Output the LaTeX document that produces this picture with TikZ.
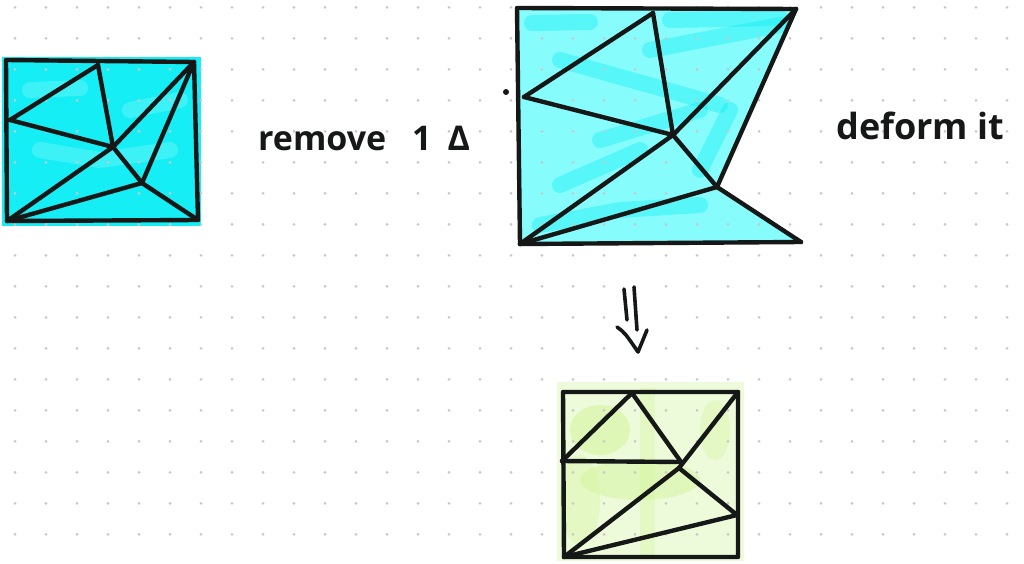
\documentclass[tikz,border=0pt]{standalone}
\usepackage{fontspec}
\setmainfont{Open Sans}
\usetikzlibrary{calc}
\definecolor{ink}{RGB}{22,24,24}
\definecolor{cyanlight}{RGB}{135,252,252}
\definecolor{cyandeep}{RGB}{0,236,242}
\definecolor{limelight}{RGB}{238,251,218}
\definecolor{limedeep}{RGB}{212,245,158}
\definecolor{dotgray}{RGB}{200,200,200}
\begin{document}
\begin{tikzpicture}[x=1pt,y=-1pt,
  edge/.style={line width=4.4pt,line cap=round,line join=round,draw=ink},
  streak/.style={line width=16pt,line cap=round,line join=round,opacity=0.35},
  hand/.style={text=ink,inner sep=0pt,anchor=base west}]
\useasboundingbox (0,0) rectangle (1024,564);
\fill[white] (0,0) rectangle (1024,564);

% ---------- vertices ----------
% left square
\coordinate (LTL) at (6,60);   \coordinate (LTR) at (194,62);
\coordinate (LBL) at (7,221);  \coordinate (LBR) at (198,220);
\coordinate (LA) at (98,65);   \coordinate (LB) at (10,120);
\coordinate (LC) at (113,147); \coordinate (LD) at (142,183);
% middle figure
\coordinate (MTL) at (517,8);  \coordinate (MTR) at (796,9);
\coordinate (MBL) at (520,244);\coordinate (MBR) at (801,242);
\coordinate (MA) at (653,13);  \coordinate (MB) at (524,97);
\coordinate (MC) at (673,135); \coordinate (MD) at (717,187);
\coordinate (MP) at (506,92);
% bottom square
\coordinate (BTL) at (563,392);\coordinate (BTR) at (738,392);
\coordinate (BBL) at (564,557);\coordinate (BBR) at (738,557);
\coordinate (BA) at (632,393); \coordinate (BB) at (562,461);
\coordinate (BC) at (681,462); \coordinate (BD) at (679,468);
\coordinate (BE) at (737,515);

% ---------- fills ----------
\fill[cyandeep!85!cyanlight] ($(LTL)+(-4,-3)$) rectangle ($(LBR)+(3,6)$);
\begin{scope}
\clip (LTL) rectangle (LBR);
\draw[streak,cyanlight] (30,90) -- (80,88);
\draw[streak,cyanlight] (40,150) -- (100,160) -- (170,150);
\draw[streak,cyanlight] (130,110) -- (180,100);
\end{scope}

\fill[cyanlight] (MTL) -- (MTR) -- (MD) -- (MBR) -- (MBL) -- cycle;
\begin{scope}
\clip (MTL) -- (MTR) -- (MD) -- (MBR) -- (MBL) -- cycle;
\draw[streak,cyandeep] (532,23) -- (590,22);
\draw[streak,cyandeep] (670,20) -- (780,18);
\draw[streak,cyandeep] (560,60) -- (720,105);
\draw[streak,cyandeep] (650,50) -- (780,25);
\draw[streak,cyandeep] (600,140) -- (700,110);
\draw[streak,cyandeep] (560,185) -- (640,150);
\draw[streak,cyandeep] (540,225) -- (620,210) -- (700,205);
\draw[streak,cyandeep] (700,170) -- (730,110);
\end{scope}

\fill[limelight] ($(BTL)+(-6,-10)$) rectangle ($(BBR)+(6,4)$);
\begin{scope}
\clip ($(BTL)+(-6,-10)$) rectangle ($(BBR)+(6,4)$);
\fill[limedeep,opacity=0.6] (600,430) ellipse (30 and 25);
\fill[limedeep,opacity=0.5] (640,480) ellipse (60 and 20);
\fill[limedeep,opacity=0.4] (580,500) ellipse (20 and 45);
\fill[limedeep,opacity=0.4] (715,430) ellipse (15 and 30);
\fill[limedeep,opacity=0.4] (640,388) rectangle (655,555);
\end{scope}

% ---------- dot grid ----------
\foreach \i in {0,...,32}{
  \foreach \j in {0,...,17}{
    \fill[dotgray] ({15+31*\i},{7.3+31*\j}) circle (1.5);
  }
}

% ---------- left square ----------
\draw[edge] (LTL) -- (LTR) -- (LBR) -- (LBL) -- cycle;
\draw[edge] (LB) -- (LA);
\draw[edge] (LA) -- (LC);
\draw[edge] (LB) -- (LC);
\draw[edge] (LC) -- (LTR);
\draw[edge] (LC) -- (LBL);
\draw[edge] (LC) -- (LD);
\draw[edge] (LD) -- (LTR);
\draw[edge] (LD) -- (LBL);
\draw[edge] (LD) -- (LBR);

% ---------- middle figure ----------
\draw[edge] (MBL) -- (MTL) -- (MTR);
\draw[edge] (MBL) -- (MBR);
\draw[edge] (MTR) -- (MD);
\draw[edge] (MD) -- (MBR);
\draw[edge] (MB) -- (MA);
\draw[edge] (MA) -- (MC);
\draw[edge] (MB) -- (MC);
\draw[edge] (MC) -- (MTR);
\draw[edge] (MC) -- (MBL);
\draw[edge] (MC) -- (MD);
\draw[edge] (MD) -- (MBL);
\fill[ink] (MP) circle (3);

% ---------- bottom square ----------
\draw[edge] (BTL) -- (BTR) -- (BBR) -- (BBL) -- cycle;
\draw[edge] (BA) -- (BB);
\draw[edge] (BB) -- (BC);
\draw[edge] (BA) -- (BC);
\draw[edge] (BD) -- (BTR);
\draw[edge] (BD) -- (BBL);
\draw[edge] (BD) -- (BE);
\draw[edge] (BE) -- (BBL);

% ---------- arrow ----------
\coordinate (A1s) at (624,289); \coordinate (A1e) at (627,320);
\coordinate (A2s) at (634,287); \coordinate (A2e) at (637,330);
\coordinate (AHl) at (617,327); \coordinate (AHt) at (638,352);
\coordinate (AHr) at (647,330);
\draw[edge,line width=3.6pt] (A1s) -- (A1e);
\draw[edge,line width=3.6pt] (A2s) -- (A2e);
\draw[edge,line width=3.6pt] (AHl) .. controls (625,333) .. (AHt) -- (AHr);

% ---------- texts ----------
\node[hand,font=\bfseries\fontsize{34}{34}\selectfont] (t1) at (258,150) {remove\hspace{26pt}1\hspace{16pt}Δ};
\node[hand,font=\bfseries\fontsize{36}{36}\selectfont] (t2) at (836,140) {deform it};
\end{tikzpicture}
\end{document}
